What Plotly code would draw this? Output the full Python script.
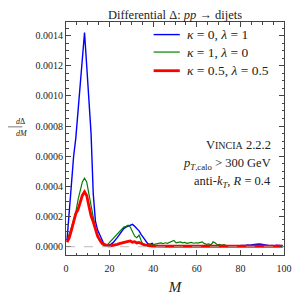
import plotly.graph_objects as go

# bin centres of M
M = [i + 0.5 for i in range(100)]

# dDelta/dM values in units of 1e-5
blue_e5 = [5, 22, 44, 60, 72, 89, 107, 124, 142, 120,
           97, 75, 35, 17, 11, 8, 4, 1.5, 0.5, 0.8,
           1.5, 2.5, 4, 6, 8, 10, 12, 13, 13.5, 14,
           14.8, 13.5, 12, 10.5, 8, 6, 4, 2, 1.5, 2.2,
           0.8, 0.5, 0.4, 0.5, 0.3, 0.4, 0.3, 0.5, 0.4, 0.3,
           0.4, 0.3, 0.5, 0.3, 0.4, 0.3, 0.3, 0.4, 0.3, 0.5,
           0.3, 0.4, 0.3, 0.3, 0.4, 0.3, 0.4, 0.3, 0.5, 0.3,
           0.4, 0.3, 0.5, 0.4, 0.6, 0.5, 0.7, 0.5, 0.8, 0.6,
           0.8, 0.7, 1.0, 1.2, 1.0, 1.4, 1.6, 1.5, 1.8, 1.6,
           1.3, 1.0, 0.8, 0.7, 0.9, 0.6, 1.0, 0.8, 0.6, 0.7]
green_e5 = [4, 8, 13, 18, 23, 31, 37.5, 43, 45.5, 43,
            35, 27.5, 20, 12, 7.5, 3.5, 1.5, 0.5, 0.5, 2,
            3.5, 5, 6.5, 8, 10, 11.5, 13, 13.5, 14.3, 13,
            10, 7, 6, 7.7, 4, 1, 1, 1.5, 1.5, 1.2,
            1.5, 1.8, 2, 2.5, 2, 2.6, 2.2, 3, 3.5, 4.2,
            2.5, 2.8, 3.2, 2.6, 2.8, 2.2, 2.5, 2.8, 2.3, 2.6,
            2.4, 3, 3.2, 2, 1.5, 1.8, 1.2, 3.2, 2.5, 1.2,
            1.6, 1, 1.3, 0.8, 0.6, 0.5, 0.7, 0.4, 0.5, 0.6,
            0.4, 0.5, 0.3, 0.5, 0.4, 0.6, 0.4, 0.5, 0.3, 0.4,
            0.5, 0.4, 0.3, 0.5, 0.4, 0.3, 0.4, 0.5, 0.3, 0.4]
red_e5 = [3, 6, 11, 16, 22, 24.5, 29, 34, 36.4, 34,
          27, 20.5, 16.5, 11, 7, 4.4, 2.5, 1.5, 0.8, 0.5,
          0.5, 0.7, 1, 1.5, 2, 2.5, 2.5, 3, 3.5, 3.8,
          3, 3.3, 2.5, 2.8, 2, 1.5, 1, 0.7, 0.5, 0.4,
          0.4, 0.3, 0.4, 0.3, 0.4, 0.3, 0.3, 0.4, 0.3, 0.4,
          0.3, 0.3, 0.4, 0.3, 0.3, 0.4, 0.3, 0.3, 0.4, 0.3,
          0.3, 0.4, 0.3, 0.3, 0.3, 0.4, 0.3, 0.3, 0.4, 0.3,
          0.3, 0.3, 0.4, 0.3, 0.3, 0.3, 0.3, 0.4, 0.3, 0.3,
          0.3, 0.3, 0.3, 0.4, 0.3, 0.3, 0.3, 0.3, 0.3, 0.4,
          0.3, 0.3, 0.3, 0.3, 0.3, 0.3, 0.3, 0.3, 0.3, 0.3]

blue = [v * 1e-5 for v in blue_e5]
green = [v * 1e-5 for v in green_e5]
red = [v * 1e-5 for v in red_e5]

labels = ["<i>κ</i> = 0, <i>λ</i> = 1",
          "<i>κ</i> = 1, <i>λ</i> = 0",
          "<i>κ</i> = 0.5, <i>λ</i> = 0.5"]
colors = ["#0000ff", "#008000", "#ff0000"]
widths = [1.4, 1.2, 2.8]

FONT = "Liberation Serif"
AX = "#444444"
TXT = "#222222"

fig = go.Figure()
fig.add_hline(y=0, line=dict(color="#aaaaaa", width=0.8, dash="dash"))
for ys, lab, c, w in zip([blue, green, red], labels, colors, widths):
    fig.add_trace(go.Scatter(x=M, y=ys, mode="lines", name=lab,
                             line=dict(color=c, width=w), showlegend=False))

axis_common = dict(showline=True, linecolor=AX, linewidth=1, mirror="allticks",
                   ticks="inside", tickcolor=AX, ticklen=5, showgrid=False,
                   zeroline=False, automargin=False,
                   tickfont=dict(family=FONT, size=10, color=TXT))

fig.update_xaxes(range=[0, 100], dtick=20, tick0=0, ticklabelstandoff=4,
                 minor=dict(ticks="inside", dtick=5, ticklen=2.5, tickcolor=AX),
                 title=dict(text="<i>M</i>", font=dict(family=FONT, size=15, color=TXT),
                            standoff=8),
                 **axis_common)
fig.update_yaxes(range=[-0.000055, 0.00149], dtick=0.0002, tick0=0, tickformat=".4f",
                 minor=dict(ticks="inside", dtick=0.00005, ticklen=2.5, tickcolor=AX),
                 **axis_common)

ann_font = dict(family=FONT, size=12.5, color=TXT)

# legend (drawn manually to match the reference spacing)
leg_y = [0.946, 0.871, 0.791]
for lab, c, w, yy in zip(labels, colors, widths, leg_y):
    fig.add_shape(type="line", xref="paper", yref="paper", x0=0.402, x1=0.522,
                  y0=yy, y1=yy, line=dict(color=c, width=w))
    fig.add_annotation(text=lab, xref="paper", yref="paper", x=0.545, y=yy,
                       xanchor="left", yanchor="middle", showarrow=False,
                       font=dict(family=FONT, size=13.5, color=TXT))

fig.add_annotation(text="Differential Δ: <i>pp</i> → dijets", xref="paper", yref="paper",
                   x=0.5, y=1, yanchor="bottom", yshift=-2, showarrow=False,
                   font=dict(family=FONT, size=12.5, color=TXT))
fig.add_annotation(text="<i>d</i>Δ", xref="paper", yref="paper", x=-0.237, y=0.55,
                   yanchor="bottom", yshift=-1, showarrow=False,
                   font=dict(family=FONT, size=8, color=TXT))
fig.add_annotation(text="<i>dM</i>", xref="paper", yref="paper", x=-0.237, y=0.55,
                   yanchor="top", yshift=0, showarrow=False,
                   font=dict(family=FONT, size=8, color=TXT))
fig.add_shape(type="line", xref="paper", yref="paper", x0=-0.275, x1=-0.2,
              y0=0.55, y1=0.55, line=dict(color=TXT, width=0.6))
fig.add_annotation(text="V<span style='font-size:10px'>INCIA</span> 2.2.2", xref="paper",
                   yref="paper", x=0.949, y=0.473, xanchor="right", yanchor="middle",
                   showarrow=False, font=ann_font)
fig.add_annotation(text="<i>p</i><sub><i>T</i>,calo</sub> > 300 GeV", xref="paper",
                   yref="paper", x=0.949, y=0.391, xanchor="right", yanchor="middle",
                   showarrow=False, font=ann_font)
fig.add_annotation(text="anti-<i>k</i><sub><i>T</i></sub>, <i>R</i> = 0.4", xref="paper",
                   yref="paper", x=0.949, y=0.314, xanchor="right", yanchor="middle",
                   showarrow=False, font=ann_font)

# page body adds an 8px offset, so margins are reduced accordingly
fig.update_layout(width=300, height=300, margin=dict(l=58, r=24, t=14, b=53),
                  paper_bgcolor="white", plot_bgcolor="white",
                  showlegend=False)

fig.write_html("out.html")
